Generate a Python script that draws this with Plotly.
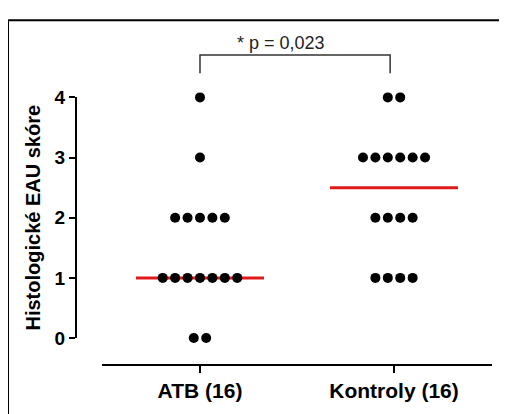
import numpy as np
import plotly.graph_objects as go

# ---- data ----
categories = ["ATB (16)", "Kontroly (16)"]
atb_scores = [4, 3, 2, 2, 2, 2, 2, 1, 1, 1, 1, 1, 1, 1, 0, 0]
kontroly_scores = [4, 4, 3, 3, 3, 3, 3, 3, 2, 2, 2, 2, 1, 1, 1, 1]
y_ticks = [0, 1, 2, 3, 4]
p_label = "* p = 0,023"
y_title = "Histologické EAU skóre"

groups = [atb_scores, kontroly_scores]

# ---- geometry (pixels, in page coordinates; page body has an 8px margin) ----
OFF = 8
W, H = 507 - OFF, 414 - OFF
ML, MR, MT, MB = 76 - OFF, 15, 20 - OFF, 46


PW, PH = W - ML - MR, H - MT - MB


def px_x(p):
    return (p - OFF - ML) / PW


def px_y(p):
    return (H - MB - (p - OFF)) / PH


FONT = "Arial, 'Liberation Sans', Helvetica, sans-serif"
spacing = 0.064   # horizontal spacing of dots (x units)
half_w = 0.33     # half width of median line

fig = go.Figure()

for gi, vals in enumerate(groups):
    vals = np.array(vals)
    xs, ys = [], []
    for v in sorted(set(vals.tolist()), reverse=True):
        n = int((vals == v).sum())
        for i in range(n):
            xs.append(gi + (i - (n - 1) / 2) * spacing)
            ys.append(v)
    med = float(np.median(vals))
    fig.add_trace(go.Scatter(
        x=[gi - half_w, gi + half_w], y=[med, med], mode="lines",
        line=dict(color="#e0191b", width=3), cliponaxis=False,
        showlegend=False, hoverinfo="skip"))
    fig.add_trace(go.Scatter(
        x=xs, y=ys, mode="markers",
        marker=dict(color="black", size=10, line=dict(width=0)),
        cliponaxis=False, showlegend=False))

fig.update_layout(
    width=W, height=H,
    margin=dict(l=ML, r=MR, t=MT, b=MB, pad=0),
    paper_bgcolor="white", plot_bgcolor="white",
    font=dict(family=FONT, color="black"),
    showlegend=False,
    xaxis=dict(
        anchor="free", position=0,
        domain=[px_x(102), px_x(492)],
        range=[-0.505, 1.505],
        tickvals=[0, 1], ticktext=categories,
        tickfont=dict(size=21, family=FONT, color="black", weight="bold"),
        showline=True, linecolor="black", linewidth=2,
        ticks="outside", ticklen=7, tickwidth=2, tickcolor="black",
        showgrid=False, zeroline=False,
    ),
    yaxis=dict(
        anchor="free", position=0,
        domain=[px_y(340), px_y(90)],
        range=[0, 4],
        tickvals=y_ticks,
        tickfont=dict(size=19, family=FONT, color="black", weight="bold"),
        showline=True, linecolor="black", linewidth=2,
        ticks="outside", ticklen=6, tickwidth=2, tickcolor="black",
        showgrid=False, zeroline=False,
        title=dict(text=y_title, standoff=8,
                   font=dict(size=20, family=FONT, color="black", weight="bold")),
    ),
)

# significance bracket
fig.add_shape(type="path", xref="x", yref="paper",
              path=f"M 0,{px_y(65)} L 0,{px_y(46)} L 0.98,{px_y(46)} L 0.98,{px_y(65)}",
              line=dict(color="#333333", width=1.5))
fig.add_annotation(x=0.42, xref="x", y=px_y(33), yref="paper",
                   text=p_label, showarrow=False, xanchor="center", yanchor="middle",
                   font=dict(size=18, family=FONT, color="#222222"))

# outer frame (left and top edges)
fig.add_shape(type="line", xref="paper", yref="paper",
              x0=px_x(8), x1=px_x(8), y0=px_y(10), y1=px_y(420),
              line=dict(color="black", width=2))
fig.add_shape(type="line", xref="paper", yref="paper",
              x0=px_x(7), x1=px_x(512), y0=px_y(10), y1=px_y(10),
              line=dict(color="black", width=2))

fig.write_html("out.html")
